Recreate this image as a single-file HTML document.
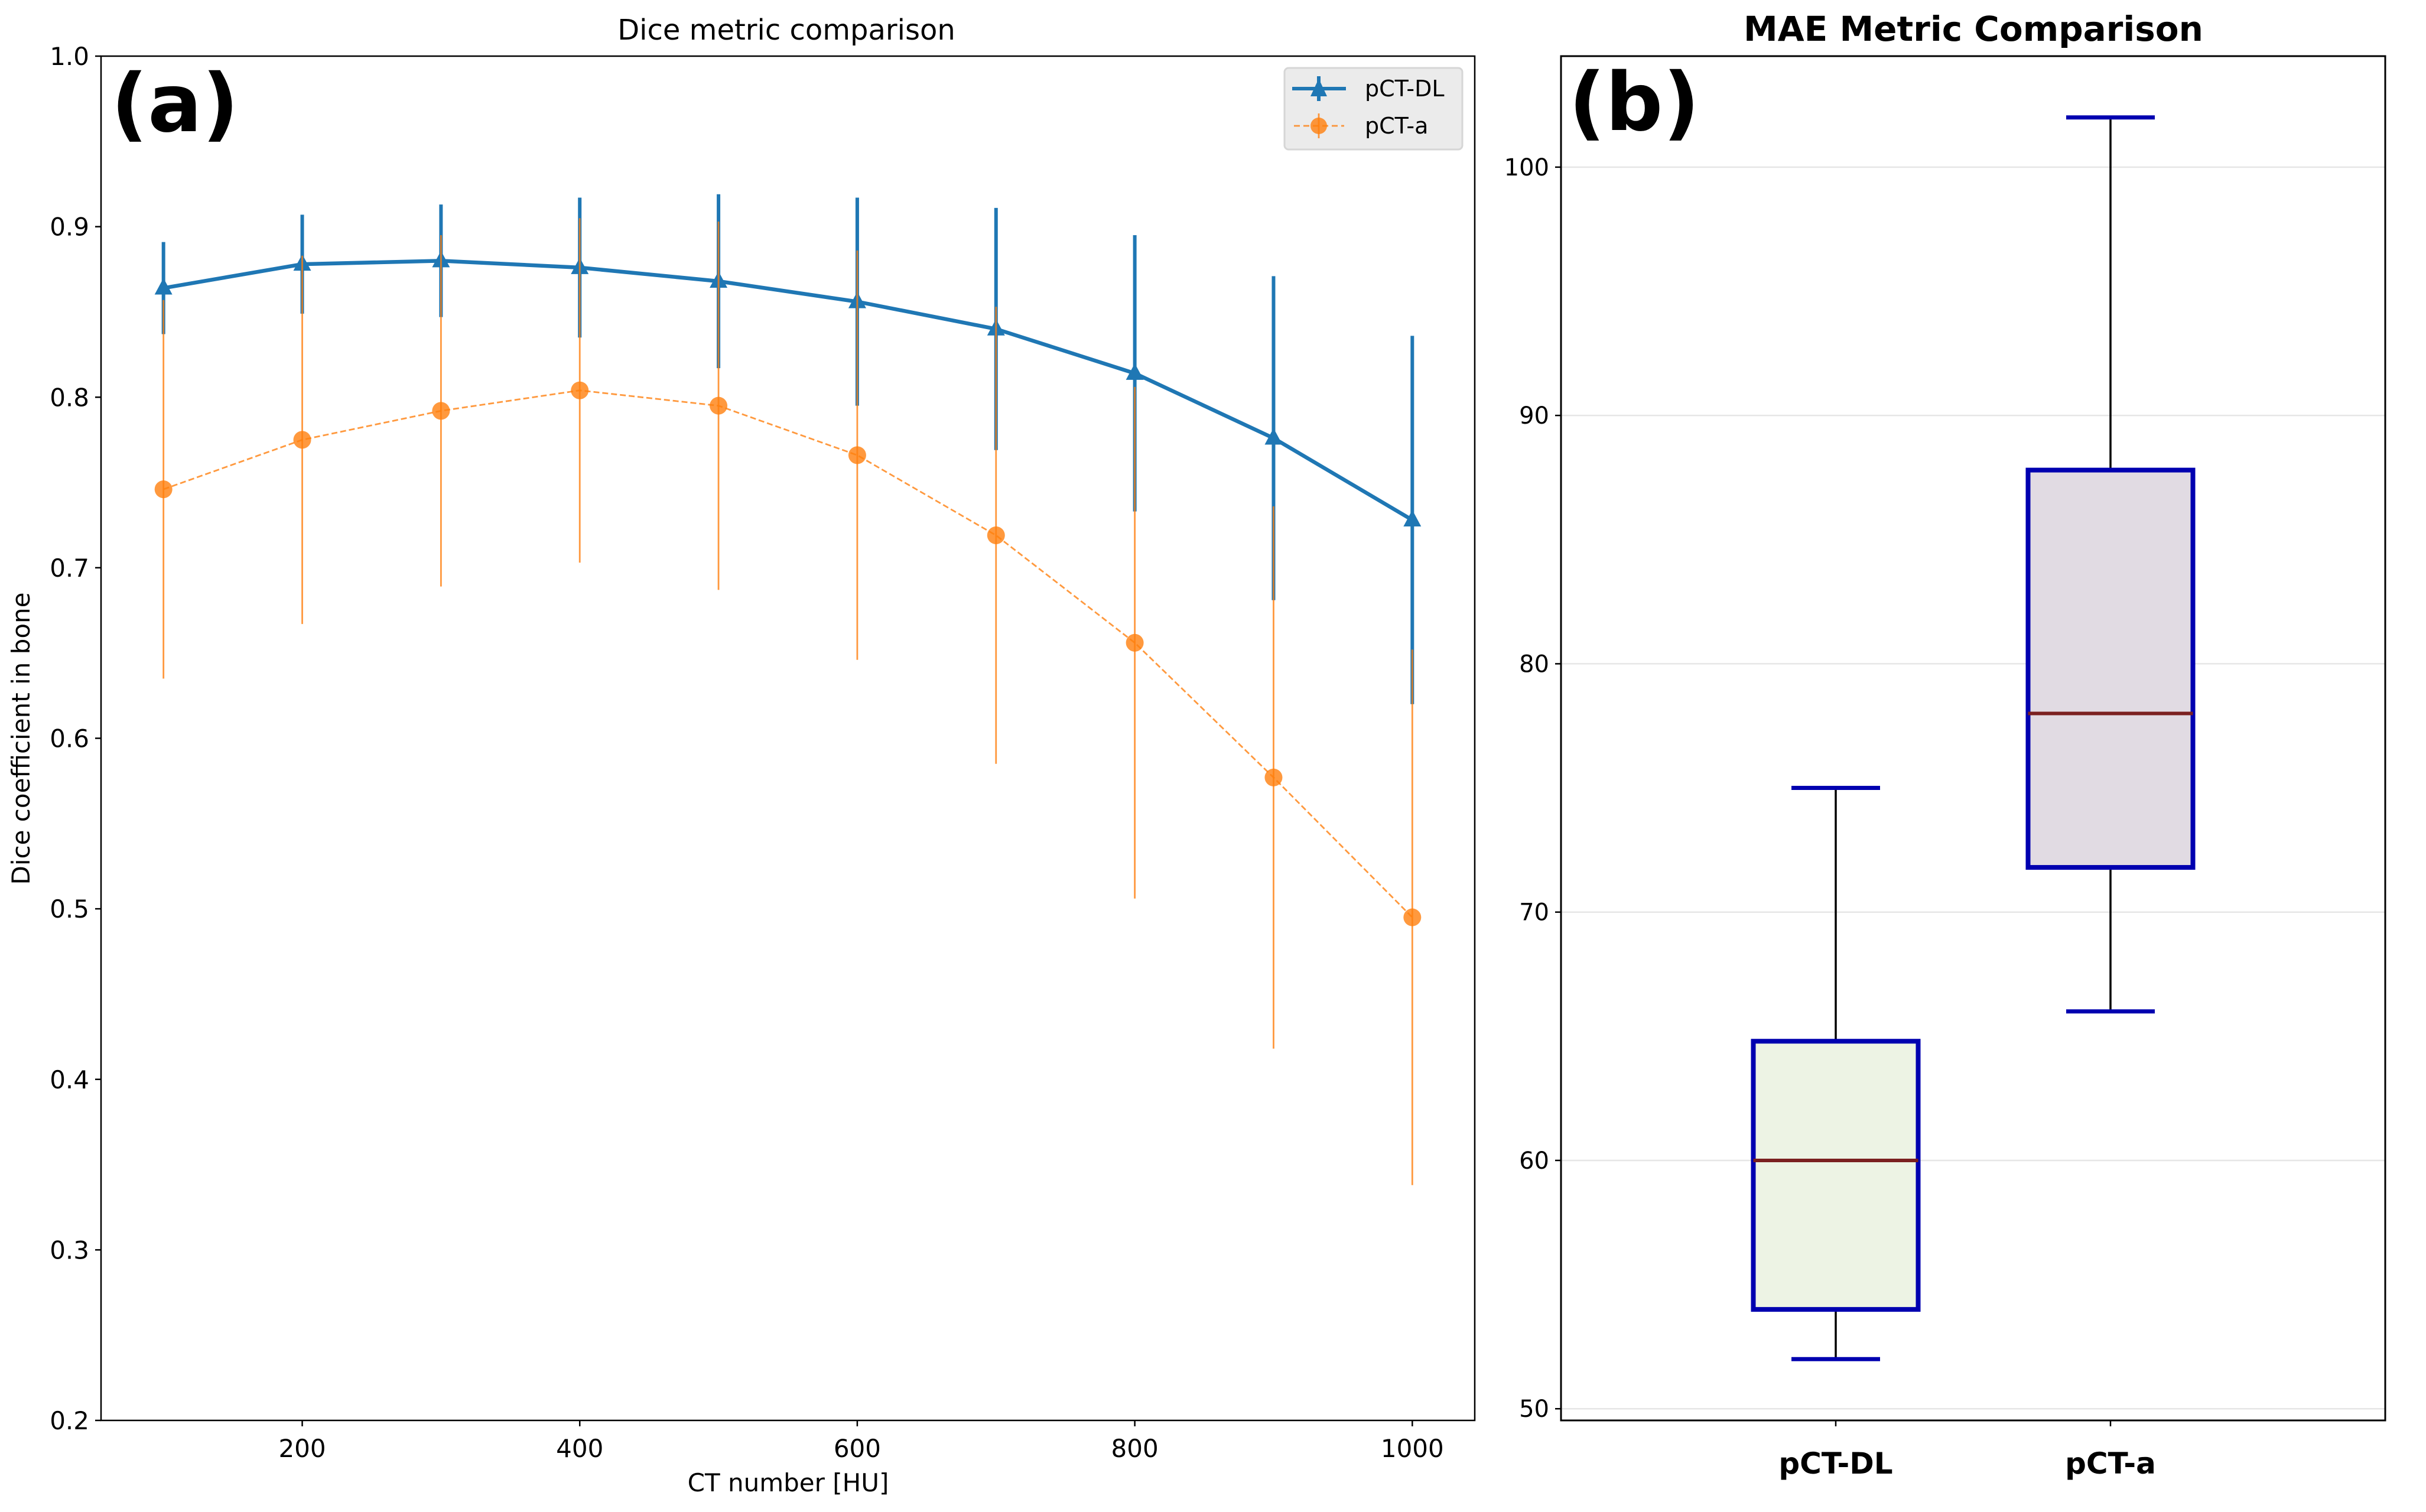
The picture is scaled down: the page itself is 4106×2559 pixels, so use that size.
<!DOCTYPE html>
<html><head><meta charset="utf-8"><style>
html,body{margin:0;padding:0;background:#fff;}
svg text{font-family:"DejaVu Sans","Liberation Sans",sans-serif;}
</style></head><body>
<svg id="fig" width="4106" height="2554" viewBox="0 0 4106 2554" xmlns="http://www.w3.org/2000/svg">
<rect width="4106" height="2554" fill="#fff"/>
<g id="left"></g>
<g id="right"></g>
</svg>
<script>
// ---- Dice chart data ----
const ctNumbers = [100,200,300,400,500,600,700,800,900,1000];
const dlMean = [0.864,0.878,0.880,0.876,0.868,0.856,0.840,0.814,0.776,0.728];
const dlErr  = [0.027,0.029,0.033,0.041,0.051,0.061,0.071,0.081,0.095,0.108];
const aMean  = [0.746,0.775,0.792,0.804,0.795,0.766,0.719,0.656,0.577,0.495];
const aErr   = [0.111,0.108,0.103,0.101,0.108,0.120,0.134,0.150,0.159,0.157];
const xTicks = [200,400,600,800,1000];
const yTicks = [0.2,0.3,0.4,0.5,0.6,0.7,0.8,0.9,1.0];
// ---- MAE box data ----
const boxCats = ['pCT-DL','pCT-a'];
const boxMin = [52,66];
const boxQ1 = [54,71.8];
const boxMed = [60,78];
const boxQ3 = [64.8,87.8];
const boxMax = [75,102];
const maeTicks = [50,60,70,80,90,100];

const NS='http://www.w3.org/2000/svg';
function mk(parent,tag,attrs,text){const e=document.createElementNS(NS,tag);for(const k in attrs)e.setAttribute(k,attrs[k]);if(text!==undefined)e.textContent=text;parent.appendChild(e);return e;}

// Left axes
const L={x0:171,x1:2496,y0:95,y1:2404,xmin:55,xmax:1045,ymin:0.2,ymax:1.0};
const sx=v=>L.x0+(v-L.xmin)/(L.xmax-L.xmin)*(L.x1-L.x0);
const sy=v=>L.y1-(v-L.ymin)/(L.ymax-L.ymin)*(L.y1-L.y0);
const lg=document.getElementById('left');

let t=mk(lg,'text',{x:1331,y:67,'font-size':48,'text-anchor':'middle'},'Dice metric comparison');


yTicks.forEach(v=>{
  const y=sy(v);
  const tk=mk(lg,'line',{x1:L.x0-10,x2:L.x0,y1:y,y2:y,stroke:'#000','stroke-width':2.5});
  
  
  const tl=mk(lg,'text',{x:L.x0-20,y:y+15,'font-size':42,'text-anchor':'end'},v.toFixed(1));
  
  
});
xTicks.forEach(v=>{
  const x=sx(v);
  const tk=mk(lg,'line',{x1:x,x2:x,y1:L.y1,y2:L.y1+10,stroke:'#000','stroke-width':2.5});
  
  
  const tl=mk(lg,'text',{x:x,y:2466,'font-size':42,'text-anchor':'middle'},String(v));
  
  
});
t=mk(lg,'text',{x:1334,y:2524,'font-size':42,'text-anchor':'middle'},'CT number [HU]');


t=mk(lg,'text',{x:0,y:0,'font-size':42,'text-anchor':'middle',transform:'translate(50,1250) rotate(-90)'},'Dice coefficient in bone');



// pCT-DL series
const blue='#1f77b4', orange='#ff7f0e';
ctNumbers.forEach((c,i)=>{
  const e=mk(lg,'line',{x1:sx(c),x2:sx(c),y1:sy(dlMean[i]-dlErr[i]),y2:sy(dlMean[i]+dlErr[i]),stroke:blue,'stroke-width':6});
  
  
});
let p=mk(lg,'polyline',{points:ctNumbers.map((c,i)=>sx(c)+','+sy(dlMean[i])).join(' '),fill:'none',stroke:blue,'stroke-width':6.5,'stroke-linejoin':'round'});


ctNumbers.forEach((c,i)=>{
  const x=sx(c),y=sy(dlMean[i]);
  const m=mk(lg,'polygon',{points:`${x},${y-17} ${x-15},${y+11} ${x+15},${y+11}`,fill:blue});
  
  
});
// pCT-a series
ctNumbers.forEach((c,i)=>{
  const e=mk(lg,'line',{x1:sx(c),x2:sx(c),y1:sy(aMean[i]-aErr[i]),y2:sy(aMean[i]+aErr[i]),stroke:orange,'stroke-width':2.8,opacity:0.8});
  
  
});
p=mk(lg,'polyline',{points:ctNumbers.map((c,i)=>sx(c)+','+sy(aMean[i])).join(' '),fill:'none',stroke:orange,'stroke-width':2.8,'stroke-dasharray':'10 5',opacity:0.8});


ctNumbers.forEach((c,i)=>{
  const m=mk(lg,'circle',{cx:sx(c),cy:sy(aMean[i]),r:15,fill:orange,opacity:0.8});
  
  
});
let fr=mk(lg,'rect',{x:L.x0,y:L.y0,width:L.x1-L.x0,height:L.y1-L.y0,fill:'none',stroke:'#000','stroke-width':2.5});


t=mk(lg,'text',{x:188,y:222,'font-size':136,'font-weight':'bold'},'(a)');


// legend
const leg=mk(lg,'g',{});


mk(leg,'rect',{x:2174,y:115,width:301,height:138,rx:7,fill:'#ebebeb',stroke:'#d6d6d6','stroke-width':3});
let le=mk(leg,'g',{});


mk(le,'line',{x1:2187,x2:2278,y1:150,y2:150,stroke:blue,'stroke-width':6});
mk(le,'line',{x1:2232,x2:2232,y1:129,y2:171,stroke:blue,'stroke-width':6});
mk(le,'polygon',{points:'2232,133 2218,163 2246,163',fill:blue});
mk(le,'text',{x:2310,y:163,'font-size':38},'pCT-DL');
le=mk(leg,'g',{});


mk(le,'line',{x1:2190,x2:2275,y1:213,y2:213,stroke:orange,'stroke-width':2.8,'stroke-dasharray':'10 6',opacity:0.8});
mk(le,'line',{x1:2232,x2:2232,y1:192,y2:234,stroke:orange,'stroke-width':2.8,opacity:0.8});
mk(le,'circle',{cx:2232,cy:213,r:14,fill:orange,opacity:0.8});
mk(le,'text',{x:2310,y:226,'font-size':38},'pCT-a');

// Right axes
const R={x0:2642,x1:4037,y0:95,y1:2404,xmin:0,xmax:3,ymin:49.53,ymax:104.47};
const rx=v=>R.x0+(v-R.xmin)/(R.xmax-R.xmin)*(R.x1-R.x0);
const ry=v=>R.y1-(v-R.ymin)/(R.ymax-R.ymin)*(R.y1-R.y0);
const rg=document.getElementById('right');
t=mk(rg,'text',{x:3340,y:69,'font-size':58,'font-weight':'bold','text-anchor':'middle'},'MAE Metric Comparison');


maeTicks.forEach(v=>{
  const y=ry(v);
  const g=mk(rg,'line',{x1:R.x0,x2:R.x1,y1:y,y2:y,stroke:'#e6e6e6','stroke-width':2.5});
  
  
  const tk=mk(rg,'line',{x1:R.x0-10,x2:R.x0,y1:y,y2:y,stroke:'#000','stroke-width':2.5});
  
  
  const tl=mk(rg,'text',{x:R.x0-20,y:y+14,'font-size':40,'text-anchor':'end'},String(v));
  
  
});
const fills=['#edf3e4','#e1dbe3'];
boxCats.forEach((c,i)=>{
  const cx=rx(i+1), hw=(rx(0.3)-rx(0));
  const g=mk(rg,'g',{});
  
  
  mk(g,'line',{x1:cx,x2:cx,y1:ry(boxQ3[i]),y2:ry(boxMax[i]),stroke:'#000','stroke-width':3.5});
  mk(g,'line',{x1:cx,x2:cx,y1:ry(boxQ1[i]),y2:ry(boxMin[i]),stroke:'#000','stroke-width':3.5});
  mk(g,'line',{x1:cx-75,x2:cx+75,y1:ry(boxMax[i]),y2:ry(boxMax[i]),stroke:'#0000b0','stroke-width':7});
  mk(g,'line',{x1:cx-75,x2:cx+75,y1:ry(boxMin[i]),y2:ry(boxMin[i]),stroke:'#0000b0','stroke-width':7});
  mk(g,'rect',{x:cx-hw,y:ry(boxQ3[i]),width:2*hw,height:ry(boxQ1[i])-ry(boxQ3[i]),fill:fills[i],stroke:'#0000b0','stroke-width':8});
  mk(g,'line',{x1:cx-hw,x2:cx+hw,y1:ry(boxMed[i]),y2:ry(boxMed[i]),stroke:'#7b2020','stroke-width':6});
  const tk=mk(rg,'line',{x1:cx,x2:cx,y1:R.y1,y2:R.y1+10,stroke:'#000','stroke-width':2.5});
  
  
  const tl=mk(rg,'text',{x:cx,y:2494,'font-size':50,'font-weight':'bold','text-anchor':'middle'},c);
  
  
});
fr=mk(rg,'rect',{x:R.x0,y:R.y0,width:R.x1-R.x0,height:R.y1-R.y0,fill:'none',stroke:'#000','stroke-width':3});


t=mk(rg,'text',{x:2655,y:220,'font-size':136,'font-weight':'bold'},'(b)');


</script>
</body></html>
